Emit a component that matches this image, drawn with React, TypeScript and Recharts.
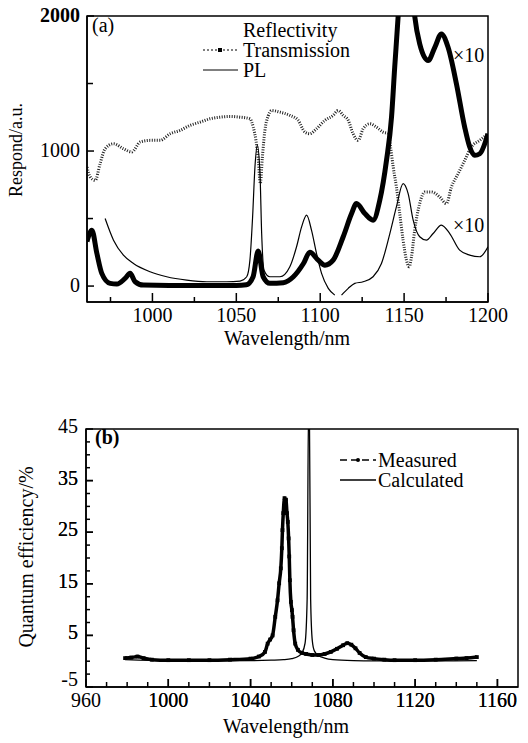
import { LineChart, Line, XAxis, YAxis, ReferenceArea } from 'recharts';

const FONT = '"Liberation Serif", Tinos, "Nimbus Roman", "Times New Roman", "DejaVu Serif", serif';

// ---- panel (a): reflectivity / transmission / PL ----
const reflWl = [961, 963.9, 966.9, 969.8, 974.8, 978.8, 983.7, 986.7, 989.7, 994.6, 1010, 1030, 1050, 1056, 1060, 1063, 1066, 1070, 1078, 1084, 1090, 1093.8, 1098.8, 1102.8, 1107.7, 1113.7, 1118.7, 1121.6, 1126.6, 1131.5, 1135.5, 1139.5, 1142.5, 1144.4, 1146.4, 1149, 1152, 1156.3, 1159.3, 1164.3, 1168.3, 1172.2, 1176.2, 1181.2, 1186.1, 1189.1, 1192.1, 1195.1, 1200];
const reflVal = [330, 414, 241, 94, 20, 15, 57, 94, 32, 7, 5, 5, 5, 10, 69, 260, 69, 20, 25, 69, 167, 250, 192, 155, 192, 365, 537, 611, 537, 488, 635, 931, 1251, 1621, 1990, 2600, 2700, 2000, 1793, 1670, 1768, 1867, 1768, 1497, 1177, 1030, 968, 980, 1128];

const transWl = [961, 962.9, 965.9, 968.8, 971.8, 976.8, 982.7, 987.7, 992.7, 998.6, 1004.6, 1010.5, 1016.5, 1022.4, 1028.4, 1034.3, 1040.3, 1046.2, 1052.2, 1058.1, 1060.1, 1061.7, 1063, 1064.3, 1065.5, 1067, 1069, 1071, 1076, 1082, 1086.9, 1090.9, 1093.8, 1097.8, 1102.8, 1107.7, 1110.7, 1113.7, 1116.7, 1119.6, 1122.6, 1125.6, 1129.6, 1133.5, 1137.5, 1140.5, 1141.9, 1143.5, 1145.4, 1147.4, 1149.4, 1151.4, 1153, 1154.4, 1156.3, 1159.3, 1162.3, 1166.3, 1171.2, 1175.2, 1178.2, 1182.2, 1186.1, 1190.1, 1195.1, 1200];
const transVal = [880, 808, 783, 906, 1017, 1054, 1017, 993, 1067, 1079, 1079, 1128, 1153, 1190, 1214, 1239, 1251, 1256, 1251, 1239, 1177, 1079, 950, 760, 950, 1150, 1260, 1300, 1288, 1264, 1227, 1140, 1128, 1165, 1227, 1264, 1300, 1264, 1227, 1128, 1079, 1165, 1202, 1177, 1140, 1128, 1030, 882, 734, 537, 340, 192, 143, 217, 414, 611, 697, 697, 660, 611, 734, 833, 931, 1030, 1079, 1128];

const plWl = [971.8, 976.8, 982.7, 988.7, 998.6, 1008.5, 1020.4, 1032.3, 1044.2, 1052.2, 1056.2, 1058.1, 1059.7, 1061.1, 1062.5, 1064.1, 1065.1, 1066.5, 1070, 1076, 1081.9, 1085.9, 1088.9, 1091.9, 1094.8, 1097.8, 1100.8, 1104.8, 1108.7, 1110.7, 1112.7, 1116.7, 1120.6, 1125.6, 1131.5, 1136.5, 1141.5, 1145.4, 1149.4, 1152.4, 1155.4, 1159.3, 1163.3, 1167.3, 1172.2, 1177.2, 1183.1, 1189.1, 1195.1, 1200];
const plVal = [500, 340, 229, 167, 106, 69, 44, 32, 32, 37, 69, 192, 512, 882, 1042, 833, 389, 118, 69, 69, 143, 291, 438, 525, 414, 241, 94, -17, -67, null, -67, -17, 20, 32, 69, 167, 389, 586, 759, 685, 488, 365, 340, 389, 451, 389, 266, 229, 217, 291];

const aXTicks = [975, 1000, 1025, 1050, 1075, 1100, 1125, 1150, 1175, 1200];
const aXMajor = [1000, 1050, 1100, 1150, 1200];
const aYTicks = [0, 500, 1000, 1500, 2000];
const aYMajor = [0, 1000, 2000];

// ---- panel (b): quantum efficiency ----
const measWl = [979, 982, 985, 988, 992, 1000, 1010, 1020, 1030, 1040, 1044, 1047, 1048.3, 1049.5, 1050.7, 1052, 1053.1, 1053.9, 1054.7, 1055.2, 1055.5, 1055.9, 1056.5, 1057.2, 1057.7, 1058.1, 1058.5, 1058.8, 1059.1, 1059.6, 1060.1, 1060.4, 1060.9, 1061.7, 1063, 1065, 1067, 1070, 1073, 1076, 1079, 1082, 1085, 1087, 1089, 1091, 1093, 1096, 1100, 1105, 1110, 1120, 1130, 1140, 1145, 1150];
const measVal = [0.6, 0.7, 0.9, 0.6, 0.3, 0.2, 0.2, 0.2, 0.3, 0.5, 0.9, 1.8, 3.4, 4.2, 5.0, 8.6, 11.8, 15.1, 18.0, 21.9, 25.4, 28.7, 31.6, 31.3, 28.7, 27.0, 23.8, 20.3, 15.7, 11.5, 9.9, 8.6, 6.0, 3.4, 2.2, 1.6, 1.4, 1.2, 1.2, 1.4, 1.8, 2.4, 3.1, 3.5, 3.2, 2.5, 1.6, 0.8, 0.5, 0.3, 0.2, 0.2, 0.3, 0.5, 0.6, 0.8];

const calcWl = [979, 1000, 1020, 1040, 1050, 1056, 1060, 1063, 1065, 1066.5, 1067.5, 1068.2, 1068.6, 1069.2, 1070, 1071, 1073, 1076, 1080, 1090, 1100, 1120, 1150];
const calcVal = [0.3, 0.1, 0.05, 0.1, 0.2, 0.3, 0.5, 0.9, 1.6, 3.5, 12, 50, 48, 12, 4, 2, 1.1, 0.6, 0.3, 0.1, 0.05, 0.05, 0.1];

const bXTicks = [970, 980, 990, 1000, 1010, 1020, 1030, 1040, 1050, 1060, 1070, 1080, 1090, 1100, 1110, 1120, 1130, 1140, 1150, 1160];
const bXMajor = [960, 1000, 1040, 1080, 1120, 1160];
const bYTicks = [-2.5, 0, 2.5, 5, 7.5, 10, 12.5, 15, 17.5, 20, 22.5, 25, 27.5, 30, 32.5, 35, 37.5, 40, 42.5];
const bYMajor = [-5, 5, 15, 25, 35, 45];

const zip = (xs: number[], ys: (number | null)[]) => xs.map((wl, i) => ({ wl, v: ys[i] }));

const reflData = zip(reflWl, reflVal);
const transData = zip(transWl, transVal);
const plData = zip(plWl, plVal);
const measData = zip(measWl, measVal);
const calcData = zip(calcWl, calcVal);

type TickCfg = {
  side: 'bottom' | 'left';
  major: number[];
  majorLen: number;
  minorLen: number;
  labelOffset: number;
  labelDy?: number;
  lift?: Record<string, number>;
  bold?: number[];
};

// ticks point inward, labels outside
function AxisTick({ x, y, payload, cfg }: any) {
  const v = payload.value;
  const isMajor = cfg.major.includes(v);
  const len = isMajor ? cfg.majorLen : cfg.minorLen;
  const weight = cfg.bold && cfg.bold.includes(v) ? 'bold' : 'normal';
  if (cfg.side === 'bottom') {
    return (
      <g>
        <line x1={x} y1={y} x2={x} y2={y - len} stroke="#000" strokeWidth={1.5} />
        {isMajor && (
          <text x={x} y={y + cfg.labelOffset} textAnchor="middle" fontFamily={FONT} fontSize={20} fill="#000">
            {v}
          </text>
        )}
      </g>
    );
  }
  const lift = (cfg.lift && cfg.lift[String(v)]) || 0;
  return (
    <g>
      <line x1={x} y1={y} x2={x + len} y2={y} stroke="#000" strokeWidth={1.5} />
      {isMajor && (
        <text x={x - cfg.labelOffset} y={y + (cfg.labelDy ?? 6) - lift} textAnchor="end" fontFamily={FONT} fontSize={20} fontWeight={weight} fill="#000">
          {v}
        </text>
      )}
    </g>
  );
}

const aXCfg: TickCfg = { side: 'bottom', major: aXMajor, majorLen: 9, minorLen: 5, labelOffset: 20 };
const aYCfg: TickCfg = { side: 'left', major: aYMajor, majorLen: 7, minorLen: 6, labelOffset: 7, bold: [2000] };
const bXCfg: TickCfg = { side: 'bottom', major: bXMajor, majorLen: 8, minorLen: 5, labelOffset: 20 };
const bYCfg: TickCfg = { side: 'left', major: bYMajor, majorLen: 7, minorLen: 4, labelOffset: 8, labelDy: 4, lift: { '-5': 5 } };

const txt = (left: number, top: number, s: string, extra: any = {}) => (
  <div
    style={{
      position: 'absolute',
      left,
      top,
      fontFamily: FONT,
      fontSize: 20,
      lineHeight: '20px',
      whiteSpace: 'nowrap',
      color: '#000',
      ...extra,
    }}
  >
    {s}
  </div>
);

const vtxt = (cx: number, cy: number, s: string, size: number) => (
  <div
    style={{
      position: 'absolute',
      left: cx,
      top: cy,
      transform: 'translate(-50%, -50%) rotate(-90deg)',
      fontFamily: FONT,
      fontSize: size,
      lineHeight: `${size}px`,
      whiteSpace: 'nowrap',
      color: '#000',
    }}
  >
    {s}
  </div>
);

function SquareDot(p: any) {
  if (p.cx == null || p.cy == null || p.value == null) return <g key={`d${p.index}`} />;
  return <rect key={`d${p.index}`} x={p.cx - 1.9} y={p.cy - 1.9} width={3.8} height={3.8} fill="#000" />;
}

export default function App() {
  return (
    <div style={{ position: 'absolute', left: 0, top: 0, width: 528, height: 743, background: '#fff' }}>
      {/* (a) */}
      <div style={{ position: 'absolute', left: 0, top: 0 }}>
        <LineChart width={528} height={350} margin={{ top: 16, right: 40, bottom: 0, left: 0 }}>
          <XAxis
            type="number"
            dataKey="wl"
            domain={[961, 1200]}
            allowDataOverflow
            ticks={aXTicks}
            interval={0}
            tickSize={0}
            tickMargin={0}
            tickLine={false}
            height={48}
            axisLine={{ stroke: '#000', strokeWidth: 1.5 }}
            tick={(p: any) => <AxisTick {...p} cfg={aXCfg} />}
          />
          <YAxis
            type="number"
            domain={[-118, 2000]}
            allowDataOverflow
            ticks={aYTicks}
            interval={0}
            tickSize={0}
            tickMargin={0}
            tickLine={false}
            width={87}
            axisLine={{ stroke: '#000', strokeWidth: 1.5 }}
            tick={(p: any) => <AxisTick {...p} cfg={aYCfg} />}
          />
          <ReferenceArea x1={961} x2={1200} y1={-118} y2={2000} fill="none" stroke="#000" strokeWidth={1.5} />
          <Line
            data={transData}
            dataKey="v"
            type="monotone"
            stroke="#222"
            strokeWidth={3}
            strokeDasharray="1 1.5"
            dot={false}
            activeDot={false}
            isAnimationActive={false}
          />
          <Line
            data={plData}
            dataKey="v"
            type="monotone"
            stroke="#000"
            strokeWidth={1.2}
            dot={false}
            activeDot={false}
            connectNulls={false}
            isAnimationActive={false}
          />
          <Line
            data={reflData}
            dataKey="v"
            type="monotone"
            stroke="#000"
            strokeWidth={5}
            dot={false}
            activeDot={false}
            isAnimationActive={false}
          />
        </LineChart>
      </div>

      {txt(92, 15, '(a)')}
      {txt(453, 45, '×10')}
      {txt(453, 215, '×10')}
      {/* legend (a) */}
      {txt(243, 20, 'Reflectivity')}
      {txt(243, 40, 'Transmission')}
      {txt(243, 60, 'PL')}
      <svg style={{ position: 'absolute', left: 200, top: 40 }} width={40} height={40}>
        <line x1={3} y1={10} x2={38} y2={10} stroke="#000" strokeWidth={1.2} strokeDasharray="2 2" />
        <rect x={18} y={8} width={4} height={4} fill="#000" />
        <line x1={3} y1={30} x2={38} y2={30} stroke="#000" strokeWidth={1} />
      </svg>
      {vtxt(16, 150, 'Respond/a.u.', 18)}
      {txt(287, 328, 'Wavelength/nm', { transform: 'translateX(-50%)' })}

      {/* (b) */}
      <div style={{ position: 'absolute', left: 0, top: 380 }}>
        <LineChart width={528} height={363} margin={{ top: 49, right: 10, bottom: 0, left: 0 }}>
          <XAxis
            type="number"
            dataKey="wl"
            domain={[960, 1170]}
            allowDataOverflow
            ticks={bXTicks.concat(bXMajor).sort((a, b) => a - b)}
            interval={0}
            tickSize={0}
            tickMargin={0}
            tickLine={false}
            height={56}
            axisLine={{ stroke: '#000', strokeWidth: 1.5 }}
            tick={(p: any) => <AxisTick {...p} cfg={bXCfg} />}
          />
          <YAxis
            type="number"
            domain={[-5, 45]}
            allowDataOverflow
            ticks={bYTicks.concat(bYMajor).sort((a, b) => a - b)}
            interval={0}
            tickSize={0}
            tickMargin={0}
            tickLine={false}
            width={86}
            axisLine={{ stroke: '#000', strokeWidth: 1.5 }}
            tick={(p: any) => <AxisTick {...p} cfg={bYCfg} />}
          />
          <ReferenceArea x1={960} x2={1170} y1={-5} y2={45} fill="none" stroke="#000" strokeWidth={1.5} />
          <Line
            data={calcData}
            dataKey="v"
            type="monotone"
            stroke="#000"
            strokeWidth={1.3}
            dot={false}
            activeDot={false}
            isAnimationActive={false}
          />
          <Line
            data={measData}
            dataKey="v"
            type="monotone"
            stroke="#000"
            strokeWidth={3.5}
            dot={SquareDot}
            activeDot={false}
            isAnimationActive={false}
          />
        </LineChart>
      </div>

      {txt(95, 427, '(b)', { fontWeight: 'bold' })}
      {/* legend (b) */}
      {txt(378, 450, 'Measured')}
      {txt(378, 470, 'Calculated')}
      <svg style={{ position: 'absolute', left: 338, top: 450 }} width={40} height={40}>
        <line x1={2} y1={10} x2={38} y2={10} stroke="#000" strokeWidth={1.3} strokeDasharray="7 4" />
        <circle cx={20} cy={10} r={2} fill="#000" />
        <line x1={2} y1={30} x2={38} y2={30} stroke="#000" strokeWidth={1.3} />
      </svg>
      {vtxt(26, 557, 'Quantum efficiency/%', 20)}
      {txt(286, 716, 'Wavelength/nm', { transform: 'translateX(-50%)' })}
    </div>
  );
}
